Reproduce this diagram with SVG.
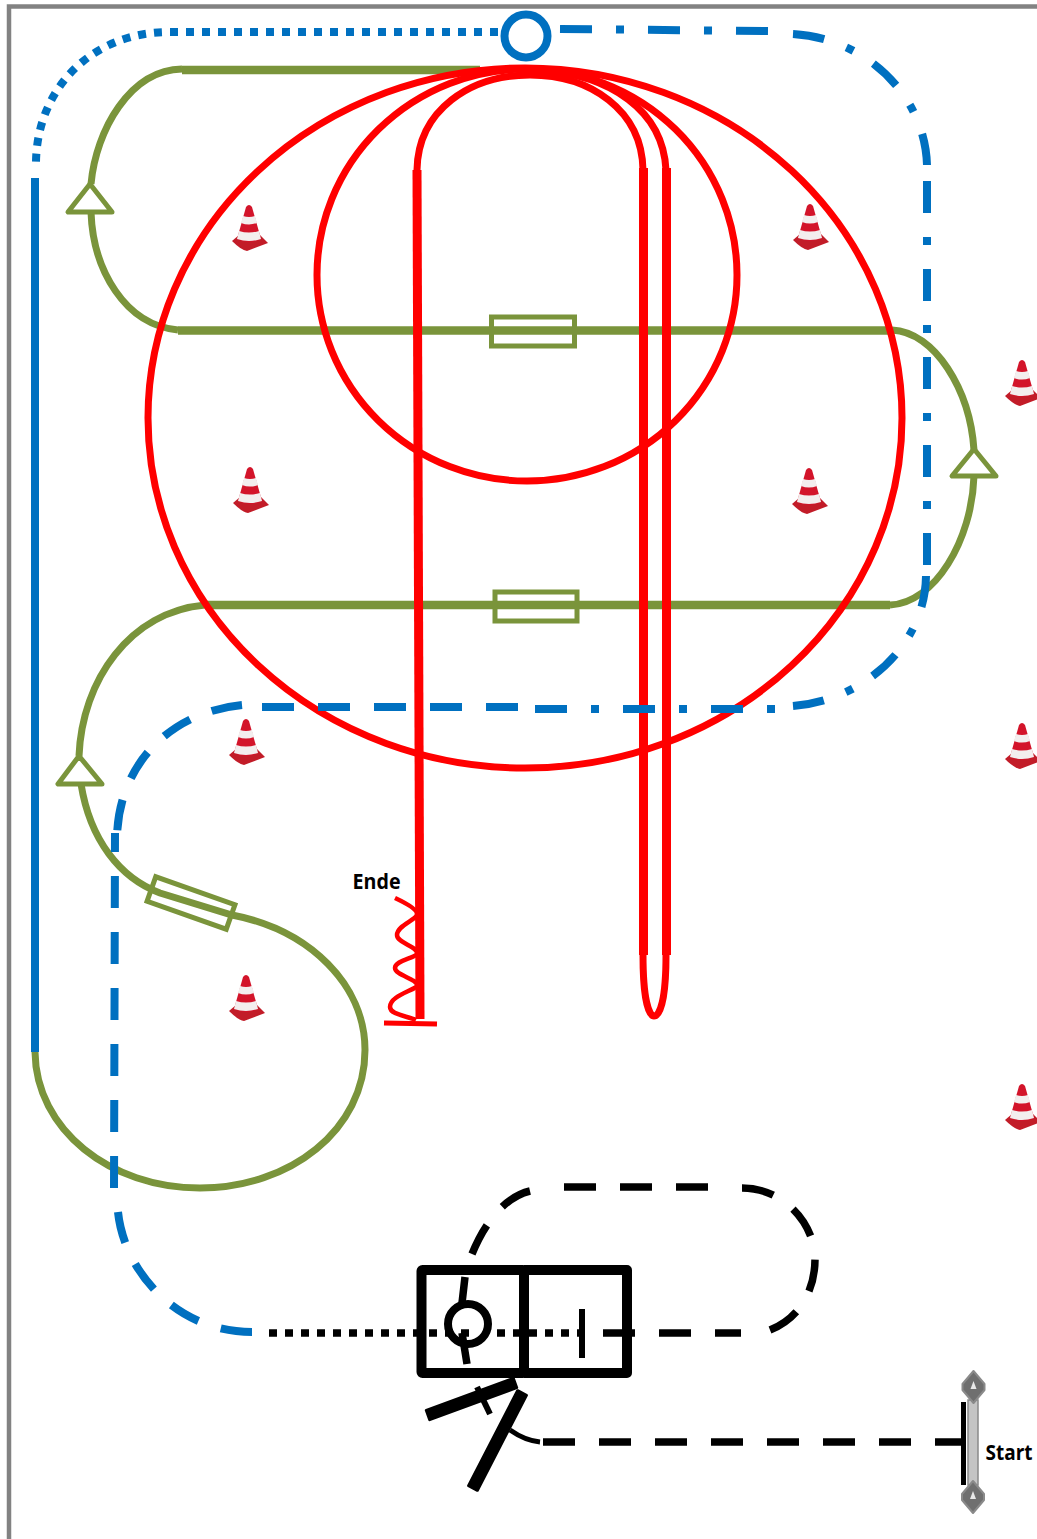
<svg xmlns="http://www.w3.org/2000/svg" xmlns:xlink="http://www.w3.org/1999/xlink" width="1037" height="1539" viewBox="0 0 1037 1539">
<style>
.f{fill:none}
.r{fill:none;stroke:#ff0000;stroke-width:7}
.rv{fill:none;stroke:#ff0000;stroke-width:9}
.rt{fill:none;stroke:#ff0000;stroke-width:4.500}
.g{fill:none;stroke:#7a943b;stroke-width:7}
.gs{fill:none;stroke:#7a943b;stroke-width:8.500}
.gw{fill:#fff;stroke:#7a943b;stroke-width:5;stroke-linejoin:round}
.gb{fill:none;stroke:#7a943b;stroke-width:5}
.b{fill:none;stroke:#0070c0;stroke-width:8}
.dd{stroke-dasharray:32 24 8 24}
.da{stroke-dasharray:32 24}
.k{fill:none;stroke:#000;stroke-width:7.500}
.t{font-family:"Open Sans","Liberation Sans",sans-serif;font-weight:700;font-size:21px;fill:#000}
</style>
<defs>
<g id="cone">
<path d="M-17 13 L-10 7 L11 7 L19 15 L-2 23 Q-8 22 -17 13 Z" fill="#c21c28"/>
<path d="M-3 -21 Q0 -25 3 -21 L12 11 Q0 17 -12 11 Z" fill="#d3142a"/>
<path d="M-6 -12 Q0 -10 6 -12 L8 -5 Q0 -2 -8 -5 Z M-10 3 Q0 6 10 3 L12 11 Q0 15 -12 11 Z" fill="#f3eeee"/>
</g>
<g id="post">
<path d="M0 -16 L11 -3 L11 3 L0 16 L-11 3 L-11 -3 Z" fill="#6f6f6f" stroke="#8a8a8a" stroke-width="2" stroke-linejoin="round"/>
<path d="M0 -6 L3 2 L-3 2 Z" fill="#e8e8e8"/>
</g>
</defs>
<path id="frame" d="M1037 6.500 H9 V1539" class="f" stroke="#828282" stroke-width="4.500"/>
<g id="cones">
<use xlink:href="#cone" href="#cone" x="249" y="228"/>
<use xlink:href="#cone" href="#cone" x="810" y="227"/>
<use xlink:href="#cone" href="#cone" x="250" y="490"/>
<use xlink:href="#cone" href="#cone" x="809" y="491"/>
<use xlink:href="#cone" href="#cone" x="246" y="742"/>
<use xlink:href="#cone" href="#cone" x="246" y="998"/>
<use xlink:href="#cone" href="#cone" x="1022" y="383"/>
<use xlink:href="#cone" href="#cone" x="1022" y="746"/>
<use xlink:href="#cone" href="#cone" x="1022" y="1107"/>
</g>
<g id="connectors">
<g id="green-route">
<path class="gs" d="M480 70 H182"/>
<path class="g" d="M182 69 C130 70 96 130 91 184"/>
<path class="g" d="M91 212 C93 270 125 325 178 330"/>
<path class="gs" d="M178 330.500 H892"/>
<path class="g" d="M892 330 C935 332 970 390 974 450"/>
<path class="g" d="M974 476 C972 540 935 603 890 605"/>
<path class="gs" d="M890 605 H205"/>
<path class="g" d="M205 605 C130 612 82 680 79 756"/>
<path class="g" d="M81 784 C90 840 120 878 160 893 L232 915 C310 930 365 985 365 1050 C365 1130 290 1188 200 1188 C110 1188 36 1130 35 1052"/>
</g>
<g id="red-route">
<ellipse class="r" cx="525" cy="418" rx="377" ry="350"/>
<ellipse class="r" cx="527" cy="275" rx="210" ry="206"/>
<path class="r" d="M417 170 C418 110 470 75 530 75 C590 75 642 110 643 170"/>
<path class="r" d="M540 70 C610 75 663 110 666 170"/>
<path class="rv" d="M417 170 L420 1019"/>
<path class="rv" d="M643.500 168 V955 M666.500 168 V955"/>
<path class="r" d="M643 955 C643 1000 649 1016 654 1016 C660 1016 666 1000 666 955"/>
<path class="rt" d="M395 898 C410 905 417 910 417 914 C417 920 397 925 397 935 C397 943 417 946 417 953 C417 958 395 960 395 968 C395 975 417 979 417 985 C417 990 390 995 390 1007 C390 1015 408 1016 416 1020"/>
<path class="rt" style="stroke-width:5" d="M384 1023 L437 1024"/>
</g>
<g id="blue-route">
<path class="b" d="M35 178 V1052"/>
<path class="b" stroke-dasharray="8 8" d="M498 32 H170 C90 32 37 90 36 162"/>
<path class="b dd" d="M560 29 L768 31"/>
<path class="b dd" pathLength="208" d="M793 34 C865 38 925 95 927 165"/>
<path class="b dd" d="M927 181 V565"/>
<path class="b dd" pathLength="208" d="M926 576 C925 645 865 700 793 706"/>
<path class="b dd" d="M535 709 H775"/>
<path class="b da" d="M262 707 H518"/>
<path class="b da" pathLength="208" d="M242 705 C170 712 118 765 117 838"/>
<path class="b da" style="stroke-dashoffset:13" d="M115 833 L114 1190"/>
<path class="b da" pathLength="200" d="M118 1212 C124 1270 175 1332 252 1332"/>
<circle class="b" cx="526" cy="36" r="21.500"/>
</g>
<g id="black-route">
<path class="k" stroke-dasharray="8 8" d="M269 1333 H470"/>
<path class="k" stroke-dasharray="8 8" d="M497 1333 H585"/>
<path class="k da" d="M603 1333 H741"/>
<path class="k da" pathLength="200" d="M770 1330 C800 1318 815 1290 815 1259 C815 1225 785 1188 742 1188"/>
<path class="k da" d="M708 1187 H564"/>
<path class="k da" pathLength="88" d="M530 1191 C505 1197 485 1222 472 1254"/>
<path class="k da" d="M543 1442 H962"/>
<path class="k" style="stroke-width:5" d="M510 1430 C520 1437 530 1441 540 1442"/>
</g>
</g>
<g id="gate-1"><rect class="gb" x="491.500" y="317" width="83" height="29"/></g>
<g id="gate-2"><rect class="gb" x="495" y="592" width="82" height="29"/></g>
<g id="gate-3"><rect class="gb" x="-42" y="-13" width="84" height="26" transform="translate(191 903) rotate(19.500)"/></g>
<g id="triangle-1"><path class="gw" d="M90 184 L68 212 H112 Z"/></g>
<g id="triangle-2"><path class="gw" d="M974 449 L952 476 H996 Z"/></g>
<g id="triangle-3"><path class="gw" d="M79 756 L58 784 H102 Z"/></g>
<g id="box-left"><rect x="421.500" y="1270" width="102.500" height="103" rx="1" class="f" stroke="#000" stroke-width="10"/>
<circle cx="468" cy="1324" r="20" class="f" stroke="#000" stroke-width="8"/>
<path d="M465 1277 L462 1303 M462 1333 L467 1364" class="f" stroke="#000" stroke-width="7.500"/></g>
<g id="box-right"><path d="M524 1270 H627 V1373 H524" class="f" stroke="#000" stroke-width="10" stroke-linejoin="round"/>
<path d="M582 1309 V1358" class="f" stroke="#000" stroke-width="6"/></g>
<g id="racket" fill="#000" stroke="#000" stroke-width="3" stroke-linejoin="round">
<path d="M426.300 1410.300 L513.300 1378.300 L516.700 1387.700 L429.700 1419.700 Z"/>
<path d="M526.400 1395.300 L517.600 1390.700 L468.600 1485.700 L477.400 1490.300 Z"/>
<path d="M477 1387 L490 1414" fill="none" stroke-width="6"/>
</g>
<g id="start-gate">
<rect x="968" y="1400" width="10" height="85" fill="#c4c4c4" stroke="#8a8a8a" stroke-width="1.500"/>
<use xlink:href="#post" href="#post" x="973.500" y="1387"/>
<use xlink:href="#post" href="#post" x="973" y="1497"/>
<path d="M963.500 1402 V1485" class="f" stroke="#000" stroke-width="5"/>
<text class="t" x="985.500" y="1460" textLength="47" lengthAdjust="spacingAndGlyphs">Start</text>
</g>
<g id="end-label"><text class="t" x="352.500" y="889" textLength="48" lengthAdjust="spacingAndGlyphs">Ende</text></g>
</svg>
